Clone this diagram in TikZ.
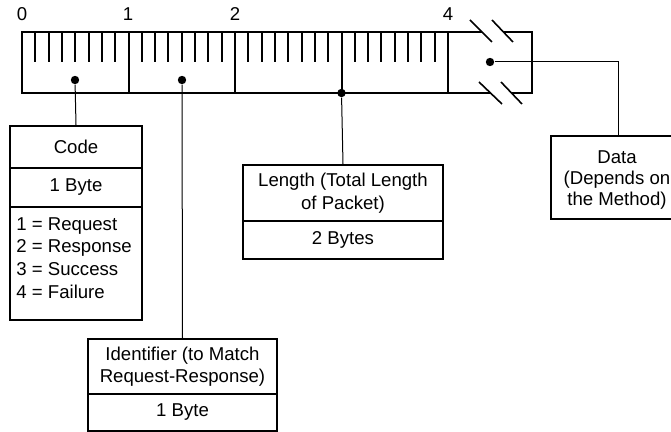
\documentclass[tikz,border=0pt]{standalone}
\usepackage{fontspec}
\setmainfont{Liberation Sans}
\begin{document}
\begin{tikzpicture}[x=0.5pt,y=-0.5pt,
  font=\fontsize{9.3}{11.3}\selectfont,
  cell/.style={draw, line width=1pt, inner sep=0pt, align=center, anchor=north west},
  conn/.style={line width=0.5pt},
  bar/.style={line width=1pt},
  tick/.style={line width=1pt},
  slash/.style={line width=0.8pt},
  dot/.style={circle, fill=black, inner sep=0pt, minimum size=4.2pt},
  lbl/.style={inner sep=0pt}]
\useasboundingbox (0,0) rectangle (671,432);
\clip (0,0) rectangle (671,432);
% byte labels
\node[lbl] (l0) at (22,14) {0};
\node[lbl] (l1) at (128,14) {1};
\node[lbl] (l2) at (235,14) {2};
\node[lbl] (l4) at (448,14) {4};
% strip outline
\draw[bar] (482,32) -- (22,32) -- (22,93) -- (490,93);
\draw[bar] (503,32) -- (532,32) -- (532,93) -- (511,93);
\foreach \x in {128.5,235,341.5,448} \draw[bar] (\x,32) -- (\x,93);
\foreach \b in {0,1,2,3} \foreach \k in {1,...,7}
  \draw[tick] ({22+106.5*\b+106.5*\k/8},32) -- ({22+106.5*\b+106.5*\k/8},62);
% break marks
\draw[slash] (470,20) -- (492,42);
\draw[slash] (492,20) -- (513,42);
\draw[slash] (479,82) -- (502,104);
\draw[slash] (501,82) -- (522,104);
% dots
\node[dot] (d0) at (75,80) {};
\node[dot] (d1) at (182,80) {};
\node[dot] (d2) at (341.5,93) {};
\node[dot] (d3) at (490,62) {};
% Code box
\node[cell, minimum width=66pt, minimum height=21pt] (code) at (9,125) {Code};
\node[cell, minimum width=66pt, minimum height=19.5pt] (codeb) at (9,167) {1 Byte};
\node[cell, minimum width=66pt, minimum height=56.5pt] (codel) at (9,206) {};
\node[anchor=north west, inner sep=0pt, align=left, font=\fontsize{9.3}{11.35}\selectfont] (codetxt) at (16,217)
  {1 = Request\\2 = Response\\3 = Success\\4 = Failure};
% Identifier box
\node[cell, minimum width=94.5pt, minimum height=27.5pt] (ident) at (87,338) {Identifier (to Match\\Request-Response)};
\node[cell, minimum width=94.5pt, minimum height=18.5pt] (identb) at (87,393) {1 Byte};
% Length box
\node[cell, minimum width=100pt, minimum height=28pt] (len) at (242,164) {Length (Total Length\\of Packet)};
\node[cell, minimum width=100pt, minimum height=19pt] (lenb) at (242,220) {2 Bytes};
% Data box
\node[cell, minimum width=67pt, minimum height=41.5pt] (data) at (550,135) {};
\node[inner sep=0pt, align=center, font=\fontsize{9.3}{10.6}\selectfont] (datatxt) at (617,180) {Data\\(Depends on\\the Method)};
% connectors
\draw[conn] (d0) -- (code.north);
\draw[conn] (d1) -- (ident.north);
\draw[conn] (d2) -- (len.north);
\draw[conn] (d3) -| (data.north);
\end{tikzpicture}
\end{document}
